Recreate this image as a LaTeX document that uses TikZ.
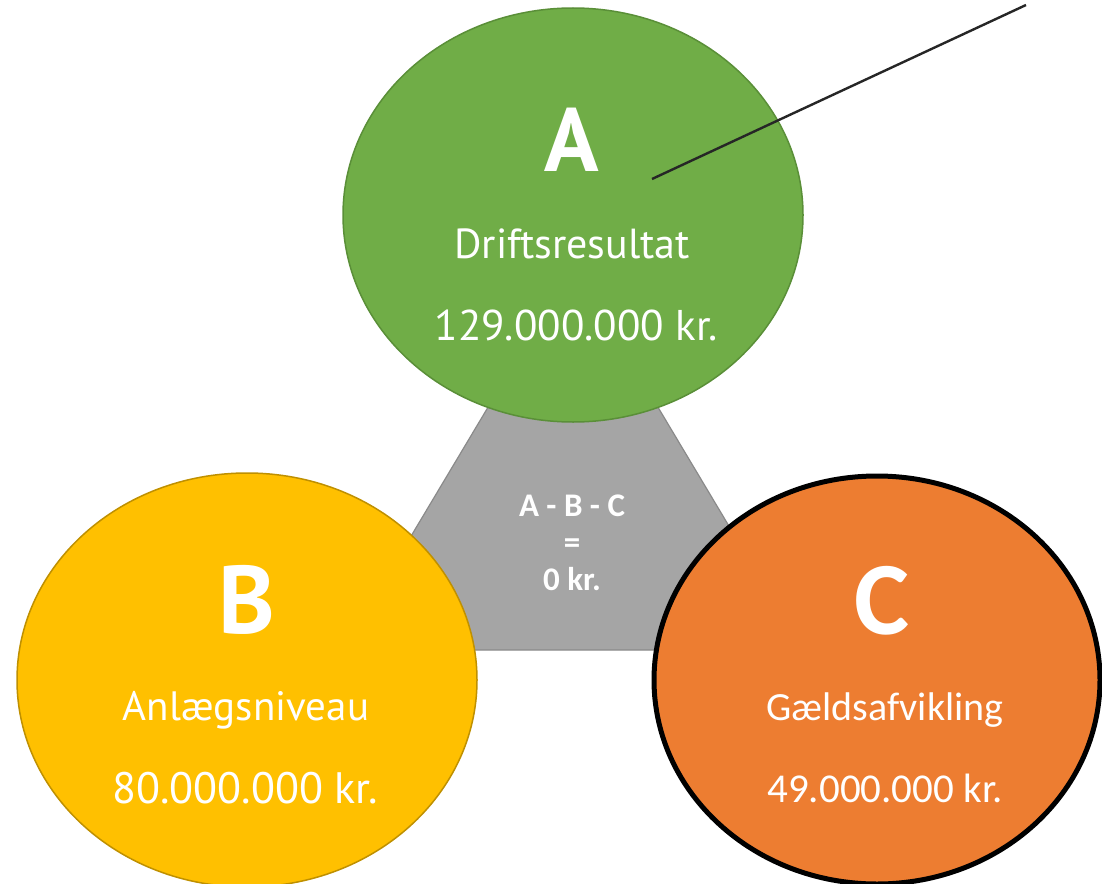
\documentclass[tikz,border=0pt]{standalone}
\usepackage{fontspec}
\setmainfont{PT Sans}
\newfontfamily\cfont{Carlito}
\usetikzlibrary{shapes.geometric}
\definecolor{agreen}{HTML}{70AD47}
\definecolor{agreenline}{HTML}{5A8F38}
\definecolor{byellow}{HTML}{FFC000}
\definecolor{byellowline}{HTML}{BF9000}
\definecolor{corange}{HTML}{ED7D31}
\definecolor{tgray}{HTML}{A5A5A5}
\definecolor{tgrayline}{HTML}{8A8A8A}
\definecolor{leader}{HTML}{262626}
\tikzset{
  oval/.style={ellipse, inner sep=0pt, minimum width=460pt, minimum height=414pt},
  bigletter/.style={text=white, font=\bfseries\fontsize{90}{96}\selectfont, inner sep=0pt},
  label/.style={text=white, font=\fontsize{42}{46}\selectfont, inner sep=0pt},
  centertext/.style={text=white, font=\cfont\bfseries\fontsize{33}{37}\selectfont, align=center, inner sep=0pt},
}
\begin{document}
\begin{tikzpicture}[x=1pt,y=-1pt]
\useasboundingbox (0,0) rectangle (1102,883);
\clip (0,0) rectangle (1102,883);
% central triangle
\coordinate (apex) at (573,265);
\coordinate (bl) at (343,650);
\coordinate (br) at (803,650);
\filldraw[fill=tgray, draw=tgrayline, line width=1.2pt] (apex) -- (bl) -- (br) -- cycle;
\node[centertext] (sum) at (572,543) {A - B - C\\=\\0 kr.};
% ellipses
\node[oval, fill=agreen, draw=agreenline, line width=1.5pt] (A) at (573,215) {};
\node[oval, fill=byellow, draw=byellowline, line width=1.5pt] (B) at (247,680) {};
\node[oval, fill=corange, draw=black, line width=5pt, minimum width=446pt, minimum height=408pt] (C) at (877,680) {};
% texts A
\node[bigletter] (Aletter) at (572,140) {A};
\node[label] (Aname) at (572,244) {Driftsresultat};
\node[label, font=\fontsize{43}{46}\selectfont] (Aval) at (576,325) {129.000.000 kr.};
% texts B
\node[bigletter, font=\bfseries\fontsize{96}{100}\selectfont] (Bletter) at (247,600) {B};
\node[label, font=\fontsize{41}{46}\selectfont] (Bname) at (246,710) {Anlægsniveau};
\node[label, font=\fontsize{44}{48}\selectfont] (Bval) at (245,788) {80.000.000 kr.};
% texts C
\node[bigletter, font=\cfont\bfseries\fontsize{104}{110}\selectfont] (Cletter) at (882,601) {C};
\node[label, font=\cfont\fontsize{40}{44}\selectfont] (Cname) at (885,710) {Gældsafvikling};
\node[label, font=\cfont\fontsize{41}{44}\selectfont] (Cval) at (885,788) {49.000.000 kr.};
% leader line
\coordinate (lstart) at (652,179);
\coordinate (lend) at (1026,5);
\draw[leader, line width=2.4pt] (lstart) -- (lend);
\end{tikzpicture}
\end{document}
